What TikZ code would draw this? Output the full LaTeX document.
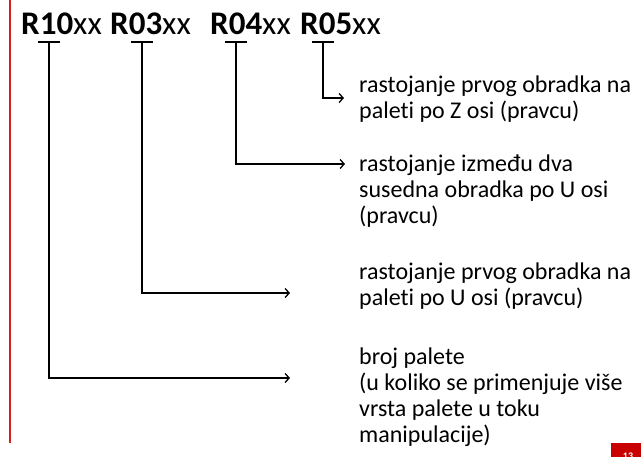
\documentclass[tikz,border=0pt]{standalone}
\usepackage{fontspec}
\setmainfont{Carlito}[Ligatures=CommonOff]
\usetikzlibrary{arrows.meta}
\definecolor{slidered}{RGB}{214,30,30}
\definecolor{boxred}{RGB}{200,0,0}
\newcommand{\desclines}[1]{\begin{tabular}[t]{@{}l@{}}#1\end{tabular}}
\tikzset{
  conn/.style={line width=1.3pt, black},
  arr/.style={conn, -{Straight Barb[length=4pt,width=9pt,line width=1.3pt]}},
  code/.style={inner sep=0pt, anchor=base west, font=\fontsize{33}{33}\selectfont},
  desc/.style={inner sep=0pt, anchor=base west, font=\fontsize{24}{26.3}\selectfont},
}
\begin{document}
\begin{tikzpicture}[x=1pt,y=-1pt]
\useasboundingbox (0,0) rectangle (641,456);
\fill[white] (0,0) rectangle (641,456);
% slide decorations
\draw[slidered, line width=2.2pt] (10,0) -- (10,443);
\fill[boxred] (611,443) rectangle (641,460);
\node[text=white, font=\bfseries\fontsize{10}{10}\selectfont, anchor=north, inner sep=0pt] (pg) at (628,453) {13};
% codes
\node[code] (r10) at (21,34) {\textbf{R10}xx};
\node[code] (r03) at (110,34) {\textbf{R03}xx};
\node[code] (r04) at (210,34) {\textbf{R04}xx};
\node[code] (r05) at (300,34) {\textbf{R05}xx};
% tees
\coordinate (s10) at (49,42);
\coordinate (s03) at (142,42);
\coordinate (s04) at (236,42);
\coordinate (s05) at (323,42);
\foreach \c in {s10,s03,s04,s05}{
  \draw[conn] ([xshift=-11pt]\c) -- ([xshift=11pt]\c);
}
% descriptions
\node[desc] (d05) at (359,92) {\desclines{rastojanje prvog obradka na\\paleti po Z osi (pravcu)}};
\node[desc] (d04) at (359,171) {\desclines{rastojanje između dva\\susedna obradka po U osi\\(pravcu)}};
\node[desc] (d03) at (359,279) {\desclines{rastojanje prvog obradka na\\paleti po U osi (pravcu)}};
\node[desc] (d10) at (359,364) {\desclines{broj palete\\(u koliko se primenjuje više\\vrsta palete u toku\\manipulacije)}};
% arrow ends
\coordinate (e05) at (344,98);
\coordinate (e04) at (345,164);
\coordinate (e03) at (290,293);
\coordinate (e10) at (290,378);
% connectors
\draw[arr] (s05) |- (e05);
\draw[arr] (s04) |- (e04);
\draw[arr] (s03) |- (e03);
\draw[arr] (s10) |- (e10);
\end{tikzpicture}
\end{document}
